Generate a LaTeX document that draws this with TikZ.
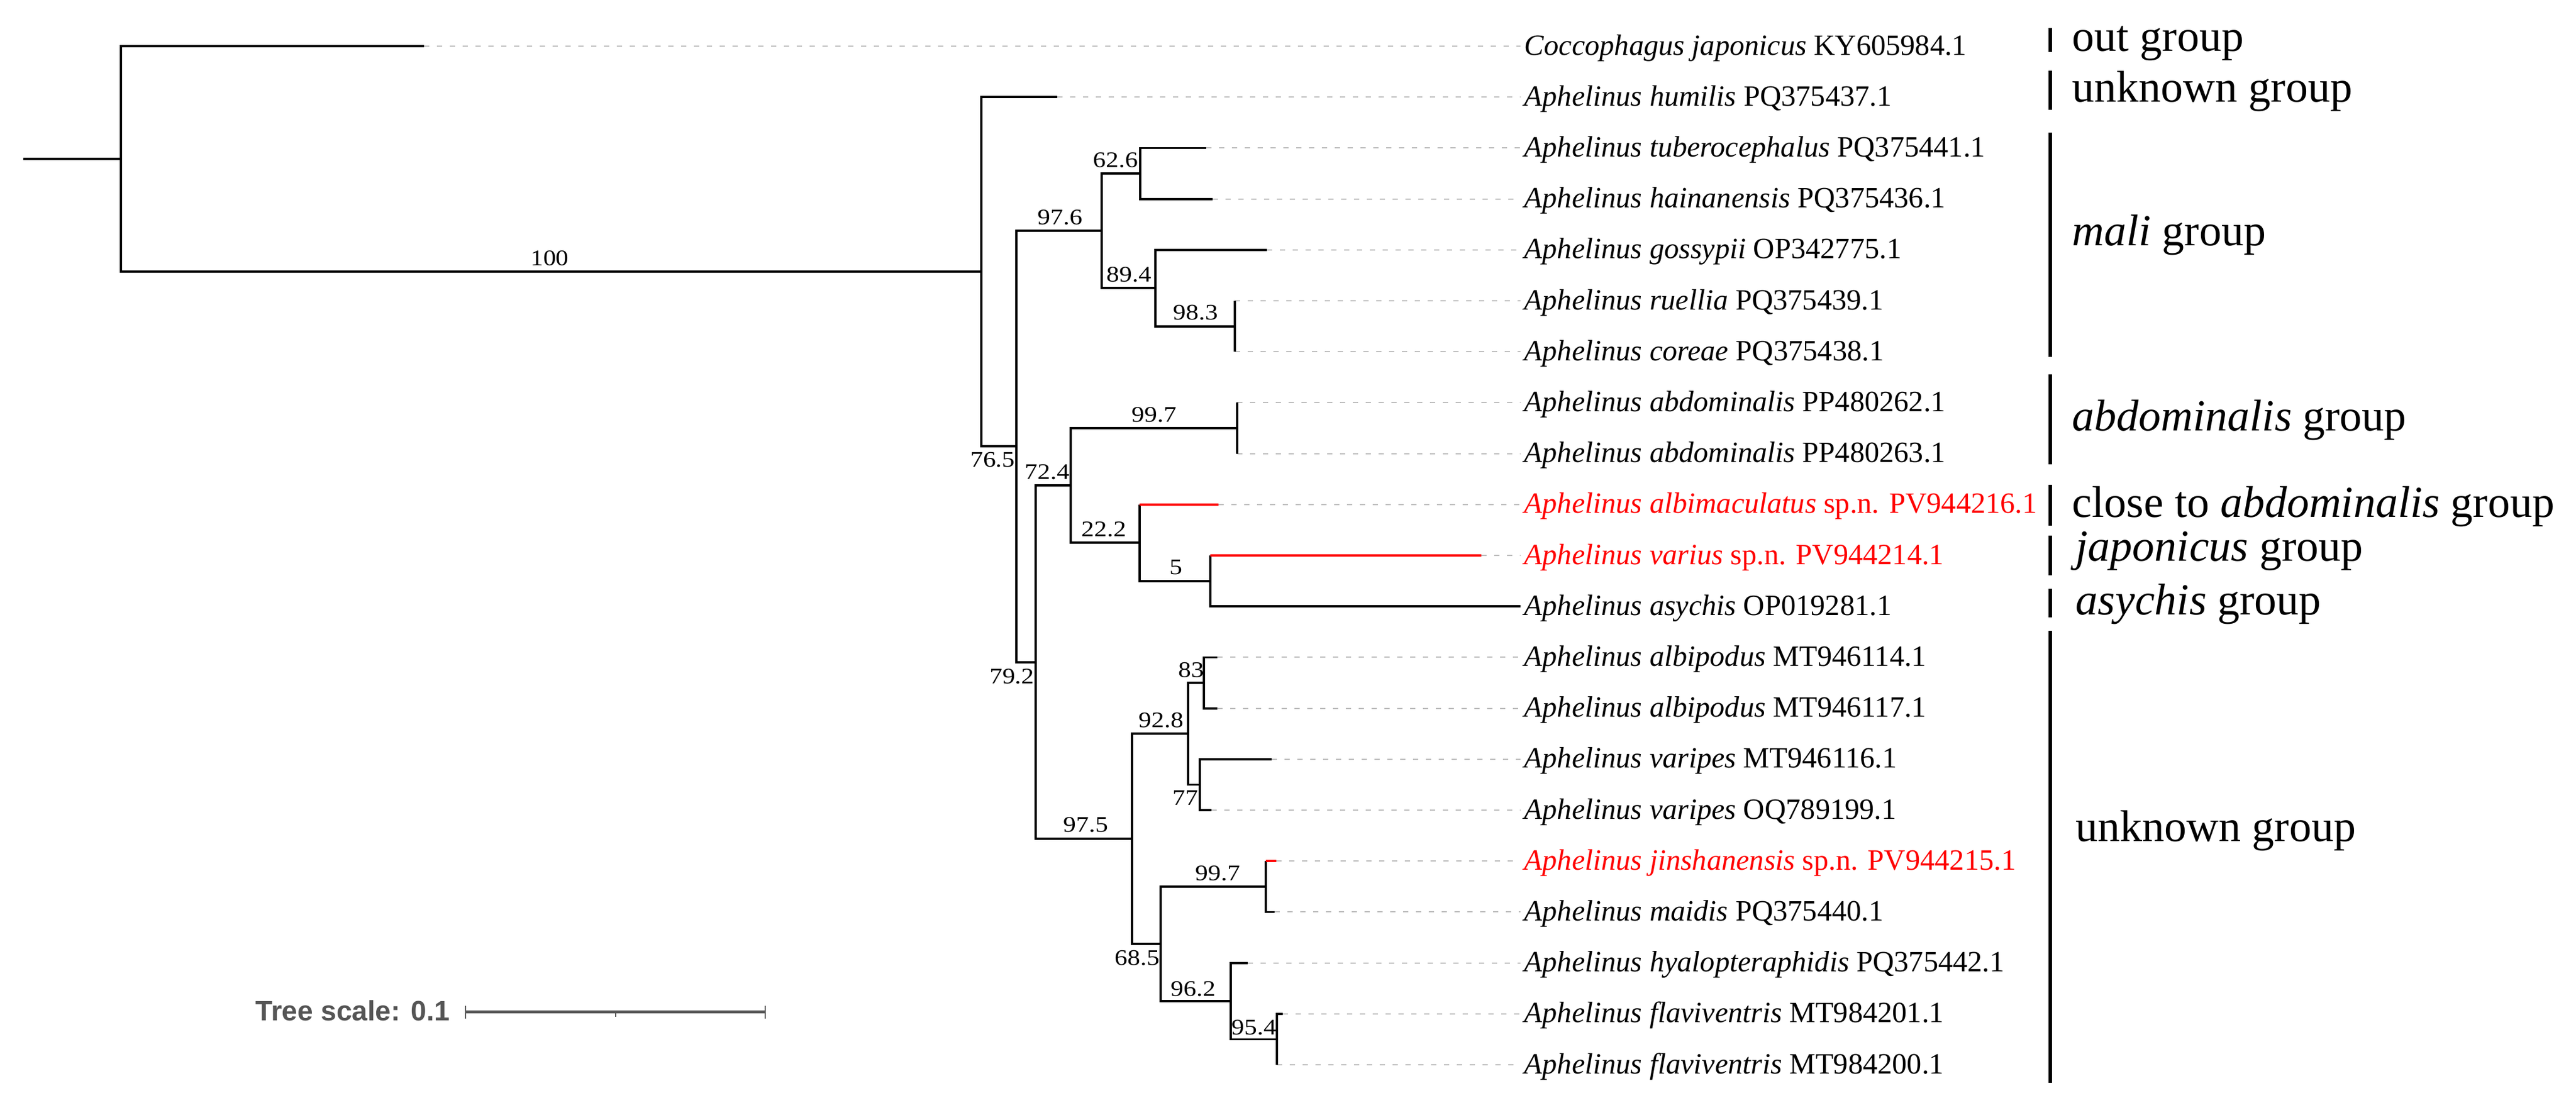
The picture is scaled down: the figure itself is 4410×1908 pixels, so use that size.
\documentclass[tikz,border=0pt]{standalone}
\usepackage{fontspec}
\usepackage{graphicx}
\setmainfont{Liberation Serif}
\newfontfamily\scalebarfont{Liberation Sans}
\definecolor{dashgray}{HTML}{BBBBBB}
\definecolor{scalegray}{HTML}{555555}
\definecolor{newred}{HTML}{FF0000}
\newcommand{\bsv}[1]{\scalebox{1.15}[1]{#1}}
\begin{document}
\begin{tikzpicture}[x=0.25pt,y=-0.25pt,
  br/.style={line width=0.95pt},
  redbr/.style={line width=0.95pt, draw=newred},
  dashline/.style={draw=dashgray, line width=0.5pt, dash pattern=on 2.25pt off 3.25pt, shorten >=1.5pt},
  tip/.style={anchor=base west, inner sep=0pt, font=\fontsize{12.6}{14}\selectfont},
  boot/.style={inner sep=0pt, font=\fontsize{9.5}{11}\selectfont},
  grp/.style={anchor=base west, inner sep=0pt, font=\fontsize{19}{22}\selectfont},
  grpbar/.style={line width=1.5pt}]
\fill[white] (0,0) rectangle (4410,1908);
\useasboundingbox (0,0) rectangle (4410,1908);

% ---------- tip ends ----------
\coordinate (e0) at (726,79);
\coordinate (e1) at (1810,166.2);
\coordinate (e2) at (2065,253.4);
\coordinate (e3) at (2076,340.6);
\coordinate (e4) at (2169,427.8);
\coordinate (e5) at (2114,515);
\coordinate (e6) at (2114,602.2);
\coordinate (e7) at (2118,689.4);
\coordinate (e8) at (2118,776.6);
\coordinate (e9) at (2086,863.8);
\coordinate (e10) at (2536,951);
\coordinate (e11) at (2603,1038.2);
\coordinate (e12) at (2084,1125.4);
\coordinate (e13) at (2084,1212.6);
\coordinate (e14) at (2177,1299.8);
\coordinate (e15) at (2074,1387);
\coordinate (e16) at (2185,1474.2);
\coordinate (e17) at (2182,1561.4);
\coordinate (e18) at (2136,1648.6);
\coordinate (e19) at (2196,1735.8);
\coordinate (e20) at (2186,1823);

% ---------- internal nodes ----------
\coordinate (S) at (40,272.1);
\coordinate (R) at (207,272.1);
\coordinate (N1) at (1680,465.3);
\coordinate (N2) at (1740,764.3);
\coordinate (M) at (1886,395.1);
\coordinate (P62) at (1952,297);
\coordinate (P89) at (1978,493.2);
\coordinate (P98) at (2114,558.6);
\coordinate (N3) at (1773,1133.6);
\coordinate (N4) at (1833,831.1);
\coordinate (A99) at (2118,733);
\coordinate (N6) at (1951,929.2);
\coordinate (N7) at (2072,994.6);
\coordinate (N5) at (1938,1436);
\coordinate (N8) at (2034,1256.2);
\coordinate (N9) at (2061,1169);
\coordinate (N10) at (2054,1343.4);
\coordinate (N11) at (1987,1615.9);
\coordinate (N12) at (2167,1517.8);
\coordinate (N13) at (2107,1714);
\coordinate (N14) at (2186,1779.4);

% ---------- tip labels ----------
\node[tip] (L0) at (2609,94) {\textit{Coccophagus japonicus} KY605984.1};
\node[tip] (L1) at (2609,181.2) {\textit{Aphelinus humilis} PQ375437.1};
\node[tip] (L2) at (2609,268.4) {\textit{Aphelinus tuberocephalus} PQ375441.1};
\node[tip] (L3) at (2609,355.6) {\textit{Aphelinus hainanensis} PQ375436.1};
\node[tip] (L4) at (2609,442.8) {\textit{Aphelinus gossypii} OP342775.1};
\node[tip] (L5) at (2609,530) {\textit{Aphelinus ruellia} PQ375439.1};
\node[tip] (L6) at (2609,617.2) {\textit{Aphelinus coreae} PQ375438.1};
\node[tip] (L7) at (2609,704.4) {\textit{Aphelinus abdominalis} PP480262.1};
\node[tip] (L8) at (2609,791.6) {\textit{Aphelinus abdominalis} PP480263.1};
\node[tip, text=newred] (L9) at (2609,878.8) {\textit{Aphelinus albimaculatus} sp.n. PV944216.1};
\node[tip, text=newred] (L10) at (2609,966) {\textit{Aphelinus varius} sp.n. PV944214.1};
\node[tip] (L11) at (2609,1053.2) {\textit{Aphelinus asychis} OP019281.1};
\node[tip] (L12) at (2609,1140.4) {\textit{Aphelinus albipodus} MT946114.1};
\node[tip] (L13) at (2609,1227.6) {\textit{Aphelinus albipodus} MT946117.1};
\node[tip] (L14) at (2609,1314.8) {\textit{Aphelinus varipes} MT946116.1};
\node[tip] (L15) at (2609,1402) {\textit{Aphelinus varipes} OQ789199.1};
\node[tip, text=newred] (L16) at (2609,1489.2) {\textit{Aphelinus jinshanensis} sp.n. PV944215.1};
\node[tip] (L17) at (2609,1576.4) {\textit{Aphelinus maidis} PQ375440.1};
\node[tip] (L18) at (2609,1663.6) {\textit{Aphelinus hyalopteraphidis} PQ375442.1};
\node[tip] (L19) at (2609,1750.8) {\textit{Aphelinus flaviventris} MT984201.1};
\node[tip] (L20) at (2609,1838) {\textit{Aphelinus flaviventris} MT984200.1};

% ---------- dashed leaders ----------
\foreach \i in {0,...,10,12,13,14,15,16,17,18,19,20}{
  \draw[dashline] (e\i) -- (e\i -| L\i.west);
}

% ---------- branches ----------
\draw[br] (S) -- (R);
\draw[br] (R) |- (e0);
\draw[br] (R) |- (N1);
\draw[br] (N1) |- (e1);
\draw[br] (N1) |- (N2);
\draw[br] (N2) |- (M);
\draw[br] (N2) |- (N3);
\draw[br] (M) |- (P62);
\draw[br] (M) |- (P89);
\draw[br] (P62) |- (e2);
\draw[br] (P62) |- (e3);
\draw[br] (P89) |- (e4);
\draw[br] (P89) |- (P98);
\draw[br] (P98) |- (e5);
\draw[br] (P98) |- (e6);
\draw[br] (N3) |- (N4);
\draw[br] (N3) |- (N5);
\draw[br] (N4) |- (A99);
\draw[br] (N4) |- (N6);
\draw[br] (A99) |- (e7);
\draw[br] (A99) |- (e8);
\draw[br] (N6) -- (N6 |- e9);
\draw[redbr] (N6 |- e9) -- (e9);
\draw[br] (N6) |- (N7);
\draw[br] (N7) -- (N7 |- e10);
\draw[redbr] (N7 |- e10) -- (e10);
\draw[br] (N7) |- (e11);
\draw[br] (N5) |- (N8);
\draw[br] (N5) |- (N11);
\draw[br] (N8) |- (N9);
\draw[br] (N8) |- (N10);
\draw[br] (N9) |- (e12);
\draw[br] (N9) |- (e13);
\draw[br] (N10) |- (e14);
\draw[br] (N10) |- (e15);
\draw[br] (N11) |- (N12);
\draw[br] (N11) |- (N13);
\draw[br] (N12) -- (N12 |- e16);
\draw[redbr] (N12 |- e16) -- (e16);
\draw[br] (N12) |- (e17);
\draw[br] (N13) |- (e18);
\draw[br] (N13) |- (N14);
\draw[br] (N14) |- (e19);
\draw[br] (N14) |- (e20);

% ---------- bootstrap values ----------
\node[boot] (b100) at (941,442) {\bsv{100}};
\node[boot] (b976) at (1815,372) {\bsv{97.6}};
\node[boot] (b626) at (1910,274) {\bsv{62.6}};
\node[boot] (b894) at (1933,470) {\bsv{89.4}};
\node[boot] (b983) at (2047,535.5) {\bsv{98.3}};
\node[boot] (b997a) at (1976,710) {\bsv{99.7}};
\node[boot] (b765) at (1699.5,787) {\bsv{76.5}};
\node[boot] (b724) at (1793,808) {\bsv{72.4}};
\node[boot] (b222) at (1890,906) {\bsv{22.2}};
\node[boot] (b5) at (2013.5,971) {\bsv{5}};
\node[boot] (b792) at (1732.5,1158) {\bsv{79.2}};
\node[boot] (b975) at (1859,1412) {\bsv{97.5}};
\node[boot] (b928) at (1988,1233) {\bsv{92.8}};
\node[boot] (b83) at (2039,1147.5) {\bsv{83}};
\node[boot] (b77) at (2029,1366) {\bsv{77}};
\node[boot] (b997b) at (2085,1495) {\bsv{99.7}};
\node[boot] (b685) at (1947,1640) {\bsv{68.5}};
\node[boot] (b962) at (2043,1693) {\bsv{96.2}};
\node[boot] (b954) at (2147,1759) {\bsv{95.4}};

% ---------- group bars and labels ----------
\draw[grpbar] (3509.5,48) -- (3509.5,89);
\draw[grpbar] (3509.5,121) -- (3509.5,188);
\draw[grpbar] (3509.5,227) -- (3509.5,611);
\draw[grpbar] (3509.5,641) -- (3509.5,795);
\draw[grpbar] (3509.5,830) -- (3509.5,900);
\draw[grpbar] (3509.5,917) -- (3509.5,985);
\draw[grpbar] (3509.5,1008) -- (3509.5,1057);
\draw[grpbar] (3509.5,1080) -- (3509.5,1854);
\node[grp] (g1) at (3547,87) {out group};
\node[grp] (g2) at (3547,174) {unknown group};
\node[grp] (g3) at (3547,420) {\textit{mali} group};
\node[grp] (g4) at (3547,737) {\textit{abdominalis} group};
\node[grp] (g5) at (3547,885) {close to \textit{abdominalis} group};
\node[grp] (g6) at (3553,960) {\textit{japonicus} group};
\node[grp] (g7) at (3553,1052) {\textit{asychis} group};
\node[grp] (g8) at (3553,1440) {unknown group};

% ---------- scale bar ----------
\coordinate (sb1) at (797,1732);
\coordinate (sbm) at (1054,1732);
\coordinate (sb2) at (1310,1732);
\draw[draw=scalegray, line width=1.25pt] (sb1) -- (sb2);
\draw[draw=scalegray, line width=0.4pt] (797,1722) -- (797,1744);
\draw[draw=scalegray, line width=0.4pt] (1310,1722) -- (1310,1744);
\draw[draw=scalegray, line width=0.3pt] (sbm) -- (1054,1741);
\node[anchor=base east, inner sep=0pt, text=scalegray, font=\scalebarfont\bfseries\fontsize{12}{14}\selectfont] (sbl) at (771,1747) {Tree scale: 0.1};
\end{tikzpicture}
\end{document}
